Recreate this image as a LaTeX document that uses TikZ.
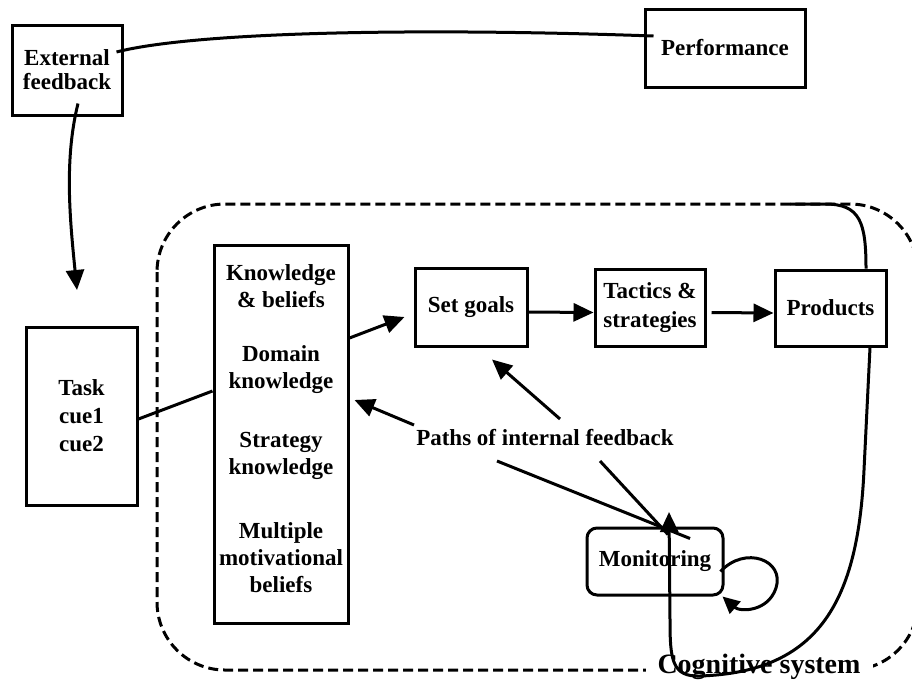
\documentclass[tikz,border=0pt]{standalone}
\usepackage{fontspec}
\setmainfont{Liberation Serif}
\usetikzlibrary{arrows.meta}
\begin{document}
\begin{tikzpicture}[x=1pt,y=-1pt,
  line width=3pt,
  every node/.style={font=\fontsize{23}{27}\selectfont\bfseries, align=center, inner sep=0pt},
  box/.style={draw, rectangle},
  arr/.style={-{Triangle[length=20pt,width=18pt]}},
  region/.style={dash pattern=on 10pt off 5pt, rounded corners=68pt},
]
\useasboundingbox (0,0) rectangle (912,686);
\clip (0,0) rectangle (912,686);

% the cognitive system boundary and its label
\draw[region] (157,204) rectangle (918,670);
\node[fill=white, inner xsep=12pt, inner ysep=3pt,
      font=\fontsize{28}{30}\selectfont\bfseries] (cog) at (759,667) {Cognitive system};

% boxes
\node[box, minimum width=110pt, minimum height=90pt] (ext) at (67,70) {External\\[-3pt]feedback};
\node[box, minimum width=160pt, minimum height=78pt] (perf) at (725,48) {Performance};
\node[box, minimum width=111pt, minimum height=178pt] (task) at (81.5,416) {Task\\[1pt]cue1\\[1pt]cue2};
\node[box, minimum width=134pt, minimum height=378pt] (kb) at (281,434) {};
\node (kb1) at (281,286) {Knowledge\\\& beliefs};
\node (kb2) at (281,370) {Domain\\knowledge};
\node (kb3) at (281,456) {Strategy\\knowledge};
\node (kb4) at (281,558) {Multiple\\motivational\\beliefs};
\node[box, minimum width=112pt, minimum height=78pt] (goals) at (471,307) {Set goals};
\node[box, minimum width=110pt, minimum height=77pt] (tact) at (650,307.5) {Tactics \&\\[2pt]strategies};
\node[box, minimum width=111pt, minimum height=76pt] (prod) at (830.5,308) {Products};
\node[box, rounded corners=10pt, minimum width=136pt, minimum height=67pt] (mon) at (655,561.5) {Monitoring};
\node (paths) at (545,438) {Paths of internal feedback};

% free ends of the connectors
\coordinate (tk) at (77,290);
\coordinate (p1) at (414,425);
\coordinate (p2) at (560,419);
\coordinate (p3) at (497,461);
\coordinate (p4) at (600,461);
\coordinate (mtip) at (669,512);

% external loop
\draw ([xshift=-7pt,yshift=18pt]ext.east) .. controls (190,33) and (400,27) .. ([xshift=10pt,yshift=12pt]perf.west);
\draw[arr] ([xshift=11pt,yshift=13pt]ext.south) .. controls (64,160) and (70,220) .. (tk);

% main flow
\draw ([yshift=-3pt]task.east) -- ([yshift=43pt]kb.west);
\draw[arr] ([yshift=96pt]kb.east) -- ([xshift=-9pt,yshift=-10pt]goals.west);
\draw[arr] ([yshift=-5pt]goals.east) -- ([yshift=-5pt]tact.west);
\draw[arr] ([xshift=5pt,yshift=-5pt]tact.east) -- ([yshift=-5pt]prod.west);

% internal feedback paths
\draw[arr] (p1) -- ([xshift=5pt,yshift=34pt]kb.east);
\draw[arr] (p2) -- ([xshift=21pt,yshift=-12pt]goals.south);
\draw (p3) -- ([xshift=35pt,yshift=23pt]mon.center);
\draw (p4) -- ([xshift=13pt,yshift=-8pt]mon.north);

% products back to monitoring
\draw ([xshift=35.5pt]prod.north) .. controls (866,222) and (860,204) .. (825,204) -- (790,204);
\draw[arr] ([xshift=39.5pt]prod.south) -- (864,470)
  .. controls (858,600) and (820,672) .. (700,676)
  .. controls (672,677) and (670,660) .. (670,620) -- (mtip);

% monitoring self loop
\draw[-{Triangle[length=17pt,width=16pt]}] ([xshift=-4pt,yshift=-10pt]mon.east)
  .. controls (745,545) and (785,560) .. (776,588)
  .. controls (768,612) and (740,612) .. ([xshift=-2pt]mon.south east);
\end{tikzpicture}
\end{document}
